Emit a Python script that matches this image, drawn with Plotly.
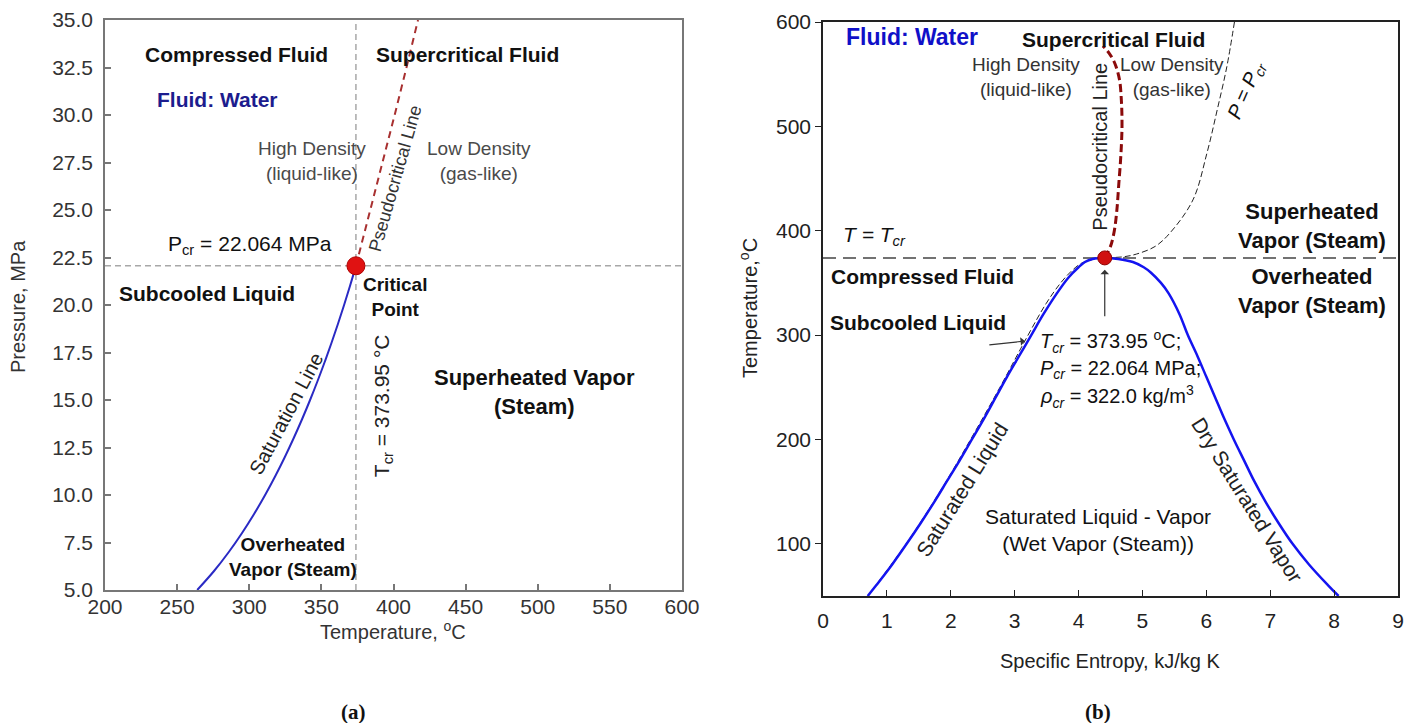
import plotly.graph_objects as go

# ---------------- critical point of water ----------------
T_CR = 373.95      # degC
P_CR = 22.064      # MPa
S_CR = 4.41        # kJ/kg K

# ---------------- (a) P-T diagram ----------------
sat_T = [263.94, 275.59, 285.83, 295.01, 303.35, 311.00, 318.08, 324.68, 330.85,
         336.67, 342.16, 347.36, 352.29, 356.99, 361.47, 365.75, 369.83, 373.71, T_CR]
sat_P = [5.0, 6.0, 7.0, 8.0, 9.0, 10.0, 11.0, 12.0, 13.0,
         14.0, 15.0, 16.0, 17.0, 18.0, 19.0, 20.0, 21.0, 22.0, P_CR]

pc_T = [T_CR, 378.0, 384.2, 392.5, 400.8, 409.0, 417.0]
pc_P = [P_CR, 23.25, 25.0, 27.5, 30.0, 32.5, 35.0]

# ---------------- (b) T-s diagram ----------------
liq_T = [50, 60, 80, 100, 120, 140, 160, 180, 200, 220, 240, 260, 280, 300,
         320, 340, 355, 365, 370, 373, T_CR]
liq_s = [0.70, 0.83, 1.08, 1.31, 1.53, 1.74, 1.94, 2.14, 2.33, 2.52, 2.70, 2.88, 3.07, 3.26,
         3.45, 3.66, 3.84, 4.00, 4.10, 4.22, S_CR]

vap_T = [T_CR, 373, 370, 365, 360, 350, 340, 320, 300, 280, 260, 240, 220, 200,
         180, 160, 140, 120, 100, 80, 60, 50]
vap_s = [S_CR, 4.62, 4.85, 5.02, 5.13, 5.29, 5.41, 5.58, 5.71, 5.86, 6.00, 6.14, 6.28, 6.43,
         6.59, 6.75, 6.93, 7.13, 7.35, 7.61, 7.91, 8.07]

# critical isobar P = P_cr
iso_T = [50, 100, 150, 200, 250, 300, 330, 350, 362, 369, 372.5, T_CR,
         375.0, 377.7, 385.0, 397.8, 429.5, 474.5, 515.7, 556.9, 600.0]
iso_s = [0.70, 1.30, 1.83, 2.31, 2.77, 3.21, 3.49, 3.72, 3.90, 4.05, 4.22, S_CR,
         4.70, 4.91, 5.20, 5.43, 5.79, 6.01, 6.17, 6.32, 6.44]

# pseudocritical line in T-s coordinates
pcb_T = [T_CR, 385, 400, 420, 445, 470, 500, 525, 545, 560, 570, 577]
pcb_s = [S_CR, 4.50, 4.56, 4.60, 4.63, 4.66, 4.68, 4.67, 4.64, 4.57, 4.48, 4.38]

FONT = "Arial, Liberation Sans, sans-serif"
W, H = 1416, 723

fig = go.Figure()

# (a) traces
fig.add_trace(go.Scatter(x=sat_T, y=sat_P, mode="lines", xaxis="x", yaxis="y",
                         line=dict(color="#2a2ac4", width=2, shape="spline"), hoverinfo="skip"))
fig.add_trace(go.Scatter(x=pc_T, y=pc_P, mode="lines", xaxis="x", yaxis="y",
                         line=dict(color="#a83030", width=2, dash="7px,5px"), hoverinfo="skip"))
fig.add_trace(go.Scatter(x=[T_CR], y=[P_CR], mode="markers", xaxis="x", yaxis="y",
                         marker=dict(size=18, color="#e01212", line=dict(color="#b00000", width=1)),
                         hoverinfo="skip"))

# (b) traces
fig.add_trace(go.Scatter(x=iso_s, y=iso_T, mode="lines", xaxis="x2", yaxis="y2",
                         line=dict(color="#222222", width=1, dash="6px,3px", shape="spline"),
                         hoverinfo="skip"))
fig.add_trace(go.Scatter(x=liq_s + vap_s[1:], y=liq_T + vap_T[1:], mode="lines",
                         xaxis="x2", yaxis="y2",
                         line=dict(color="#1414f0", width=2.5, shape="spline"), hoverinfo="skip"))
fig.add_trace(go.Scatter(x=pcb_s, y=pcb_T, mode="lines", xaxis="x2", yaxis="y2",
                         line=dict(color="#8b0a0a", width=3, dash="8px,4px", shape="spline"),
                         hoverinfo="skip"))
fig.add_trace(go.Scatter(x=[S_CR], y=[T_CR], mode="markers", xaxis="x2", yaxis="y2",
                         marker=dict(size=14, color="#d01010", line=dict(color="#900000", width=1)),
                         hoverinfo="skip"))

# reference lines
shapes = [
    dict(type="line", xref="x domain", yref="y", x0=0, x1=1, y0=P_CR, y1=P_CR,
         line=dict(color="#a8a8a8", width=1.5, dash="6px,4px"), layer="below"),
    dict(type="line", xref="x", yref="y domain", x0=T_CR, x1=T_CR, y0=0, y1=1,
         line=dict(color="#a8a8a8", width=1.5, dash="6px,4px"), layer="below"),
    dict(type="line", xref="x2 domain", yref="y2", x0=0, x1=1, y0=T_CR, y1=T_CR,
         line=dict(color="#444444", width=1.5, dash="13px,7px"), layer="below"),
]


def note(x, y, text, size=21, color="#111111", bold=False, angle=0, ax="x", ay="y",
         italic=False, align="center", xanchor="center"):
    t = text
    if bold:
        t = "<b>" + t + "</b>"
    if italic:
        t = "<i>" + t + "</i>"
    return dict(x=x, y=y, xref=ax, yref=ay, text=t, showarrow=False, textangle=angle,
                font=dict(family=FONT, size=size, color=color), align=align,
                xanchor=xanchor, yanchor="middle")


def paper_note(px, py, text, size=20, color="#333333", angle=0, family=FONT):
    return dict(x=px / W, y=1 - py / H, xref="paper", yref="paper", text=text,
                showarrow=False, textangle=angle, xanchor="center", yanchor="middle",
                font=dict(family=family, size=size, color=color))


ann = [
    # (a)
    note(291.5, 33.16, "Compressed Fluid", 21, bold=True),
    note(451.4, 33.16, "Supercritical Fluid", 21, bold=True),
    note(277.7, 30.84, "Fluid: Water", 21, color="#1c1c8e", bold=True),
    note(343.6, 27.58, "High Density<br>(liquid-like)", 19, color="#4a4a4a"),
    note(459.4, 27.6, "Low Density<br>(gas-like)", 19, color="#4a4a4a"),
    note(401.5, 26.66, "Pseudocritical Line", 18, color="#333333", angle=-74),
    note(300.6, 23.16, "P<sub>cr</sub> = 22.064 MPa", 21),
    note(270.7, 20.63, "Subcooled Liquid", 21, bold=True),
    note(401.0, 20.42, "Critical<br>Point", 19, bold=True),
    note(326.0, 14.3, "Saturation Line", 20, color="#222222", angle=-62),
    note(392.8, 14.68, "T<sub>cr</sub> = 373.95 °C", 21, color="#222222", angle=-90),
    note(497.5, 15.4, "Superheated Vapor<br>(Steam)", 22, bold=True),
    note(330.4, 6.74, "Overheated<br>Vapor (Steam)", 19, bold=True),
    # (b)
    note(1.40, 585.6, "Fluid: Water", 23, color="#1010c8", bold=True, ax="x2", ay="y2"),
    note(4.55, 582.8, "Supercritical Fluid", 21, bold=True, ax="x2", ay="y2"),
    note(3.18, 547.3, "High Density<br>(liquid-like)", 19, color="#333333", ax="x2", ay="y2"),
    note(5.46, 547.3, "Low Density<br>(gas-like)", 19, color="#333333", ax="x2", ay="y2"),
    note(4.33, 480.2, "Pseudocritical Line", 20, color="#222222", angle=-90, ax="x2", ay="y2"),
    note(6.64, 534.9, "P = P<sub>cr</sub>", 20, angle=-66, italic=True, ax="x2", ay="y2"),
    note(0.81, 395.0, "T = T<sub>cr</sub>", 21, italic=True, ax="x2", ay="y2"),
    note(7.66, 404.5, "Superheated<br>Vapor (Steam)", 22, bold=True, ax="x2", ay="y2"),
    note(7.66, 341.8, "Overheated<br>Vapor (Steam)", 22, bold=True, ax="x2", ay="y2"),
    note(1.56, 355.7, "Compressed Fluid", 21, bold=True, ax="x2", ay="y2"),
    note(1.48, 311.6, "Subcooled Liquid", 21, bold=True, ax="x2", ay="y2"),
    note(3.365, 294.3, "<i>T</i><sub><i>cr</i></sub> = 373.95 <sup>o</sup>C;", 20,
         ax="x2", ay="y2", xanchor="left", align="left"),
    note(3.365, 267.5, "<i>P</i><sub><i>cr</i></sub> = 22.064 MPa;", 20,
         ax="x2", ay="y2", xanchor="left", align="left"),
    note(3.365, 240.7, "<i>ρ</i><sub><i>cr</i></sub> = 322.0 kg/m<sup>3</sup>", 20,
         ax="x2", ay="y2", xanchor="left", align="left"),
    note(2.18, 151.6, "Saturated Liquid", 21, color="#222222", angle=-58, ax="x2", ay="y2"),
    note(4.30, 113.2, "Saturated Liquid - Vapor<br>(Wet Vapor (Steam))", 21, ax="x2", ay="y2"),
    note(6.63, 142.0, "Dry Saturated Vapor", 21, color="#222222", angle=58, ax="x2", ay="y2"),
    # arrows
    dict(x=S_CR, y=362.5, xref="x2", yref="y2", ax=S_CR, ay=316.5, axref="x2", ayref="y2",
         text="", showarrow=True, arrowhead=1, arrowsize=1.2, arrowwidth=1.2, arrowcolor="#333333"),
    dict(x=3.16, y=294.3, xref="x2", yref="y2", ax=2.58, ay=290.5, axref="x2", ayref="y2",
         text="", showarrow=True, arrowhead=1, arrowsize=1.2, arrowwidth=1.2, arrowcolor="#333333"),
    # axis titles and panel labels
    paper_note(18, 307, "Pressure, MPa", angle=-90),
    paper_note(393, 630, "Temperature, <sup>o</sup>C"),
    paper_note(748, 308, "Temperature,<sup>o</sup>C", color="#222222", angle=-90),
    paper_note(1110, 661, "Specific Entropy, kJ/kg K", color="#222222"),
    paper_note(353, 712, "<b>(a)</b>", size=21, color="#111111",
               family="Liberation Serif, Times New Roman, serif"),
    paper_note(1098, 712, "<b>(b)</b>", size=21, color="#111111",
               family="Liberation Serif, Times New Roman, serif"),
]

axis_a = dict(showgrid=False, zeroline=False, showline=True, mirror=True, linecolor="#777777",
              linewidth=1.5, ticks="inside", ticklen=6, tickcolor="#777777", tickwidth=1.5,
              automargin=False, tickfont=dict(family=FONT, size=21, color="#333333"))
axis_b = dict(showgrid=False, zeroline=False, showline=True, mirror=True, linecolor="#222222",
              linewidth=1.5, ticklen=6, tickcolor="#222222", tickwidth=1.2,
              automargin=False, tickfont=dict(family=FONT, size=21, color="#222222"))

fig.update_layout(
    width=W, height=H, margin=dict(l=0, r=0, t=0, b=0),
    paper_bgcolor="white", plot_bgcolor="white", showlegend=False,
    xaxis=dict(axis_a, domain=[105 / W, 682 / W], range=[200, 600], tick0=200, dtick=50,
               anchor="y", ticklabelstandoff=-3),
    yaxis=dict(axis_a, domain=[1 - 590 / H, 1 - 20 / H], range=[5, 35], tick0=5, dtick=2.5,
               tickformat=".1f", anchor="x", ticklabelstandoff=6),
    xaxis2=dict(axis_b, domain=[823 / W, 1398 / W], range=[0, 9], tick0=0, dtick=1,
                ticks="inside", anchor="y2", ticklabelstandoff=5),
    yaxis2=dict(axis_b, domain=[1 - 596 / H, 1 - 22 / H], range=[50, 600],
                tickvals=[100, 200, 300, 400, 500, 600], ticks="outside", anchor="x2"),
    shapes=shapes, annotations=ann,
)

fig.write_html("out.html")
